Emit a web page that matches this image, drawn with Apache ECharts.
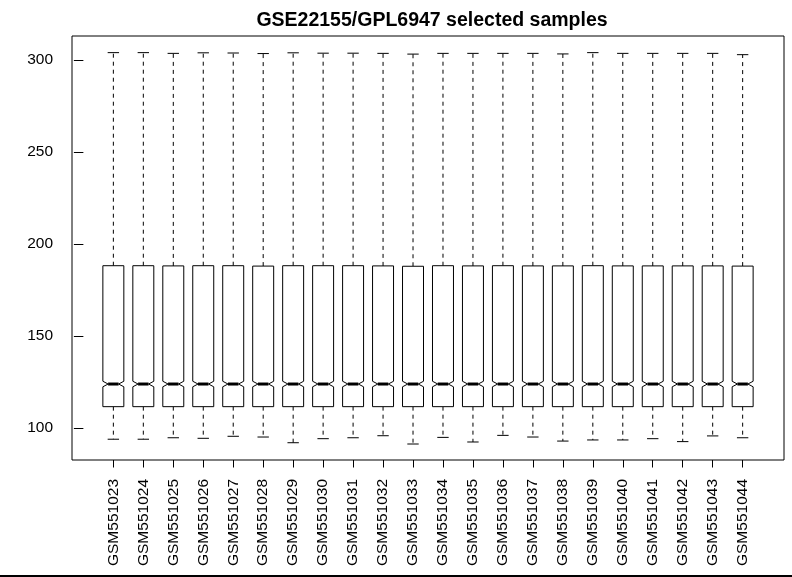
<!DOCTYPE html>
<html>
<head>
<meta charset="utf-8">
<script src="https://cdn.jsdelivr.net/npm/echarts@6/dist/echarts.min.js"></script>
<style>html,body{margin:0;padding:0;background:#fff;}#c{width:792px;height:577px;}</style>
</head>
<body>
<div id="c"></div>
<script>
var titleText = 'GSE22155/GPL6947 selected samples';
var samples = ['GSM551023','GSM551024','GSM551025','GSM551026','GSM551027','GSM551028','GSM551029','GSM551030','GSM551031','GSM551032','GSM551033','GSM551034','GSM551035','GSM551036','GSM551037','GSM551038','GSM551039','GSM551040','GSM551041','GSM551042','GSM551043','GSM551044'];
var whiskerLow = [93.9,93.9,94.7,94.4,95.5,95.1,92.0,94.2,94.7,95.8,91.3,94.9,92.4,96.0,95.1,92.9,93.5,93.5,94.2,92.6,95.7,94.7];
var q1 = [111.6,111.6,111.6,111.6,111.6,111.6,111.6,111.6,111.6,111.6,111.6,111.6,111.6,111.6,111.6,111.6,111.6,111.6,111.6,111.6,111.6,111.6];
var median = [123.9,123.9,123.9,123.9,123.9,123.9,123.9,123.9,123.9,123.9,123.9,123.9,123.9,123.9,123.9,123.9,123.9,123.9,123.9,123.9,123.9,123.9];
var q3 = [188.2,188.2,188.1,188.2,188.2,188.0,188.2,188.2,188.2,188.1,187.9,188.2,188.1,188.2,188.1,188.1,188.2,188.1,188.1,188.1,188.1,188.0];
var whiskerHigh = [304.0,304.0,303.6,303.9,303.8,303.5,303.9,303.7,303.7,303.6,303.2,303.6,303.6,303.6,303.6,303.3,304.0,303.6,303.6,303.6,303.6,302.9];
var notchHalf = [1.5,1.5,1.5,1.5,1.5,1.5,1.5,1.5,1.5,1.5,1.5,1.5,1.5,1.5,1.5,1.5,1.5,1.5,1.5,1.5,1.5,1.5];
var yTicks = [100,150,200,250,300];

var positions = samples.map(function(s,i){return i+1;});
var data = samples.map(function(s,i){
  return [i+1, whiskerLow[i], q1[i], median[i], q3[i], whiskerHigh[i], notchHalf[i]];
});

var FONT = '"Liberation Sans", Arial, Helvetica, sans-serif';
var BOX_HALF = 0.35, STAPLE_HALF = 0.19;

function renderItem(params, api){
  var x = api.value(0), lo = api.value(1), a = api.value(2), m = api.value(3), b = api.value(4), hi = api.value(5), nh = api.value(6);
  function P(dx, v){ return api.coord([x+dx, v]); }
  var w = BOX_HALF, nw = BOX_HALF/2;
  var pts = [P(-w,a),P(w,a),P(w,m-nh),P(nw,m),P(w,m+nh),P(w,b),P(-w,b),P(-w,m+nh),P(-nw,m),P(-w,m-nh)];
  var lineStyle = {stroke:'#000', lineWidth:1, fill:null};
  var dashStyle = {stroke:'#000', lineWidth:1, lineDash:[4,4]};
  return {type:'group', children:[
    {type:'line', shape:{x1:P(0,b)[0],y1:P(0,b)[1],x2:P(0,hi)[0],y2:P(0,hi)[1]}, style:dashStyle},
    {type:'line', shape:{x1:P(0,a)[0],y1:P(0,a)[1],x2:P(0,lo)[0],y2:P(0,lo)[1]}, style:dashStyle},
    {type:'line', shape:{x1:P(-STAPLE_HALF,hi)[0],y1:P(0,hi)[1],x2:P(STAPLE_HALF,hi)[0],y2:P(0,hi)[1]}, style:lineStyle},
    {type:'line', shape:{x1:P(-STAPLE_HALF,lo)[0],y1:P(0,lo)[1],x2:P(STAPLE_HALF,lo)[0],y2:P(0,lo)[1]}, style:lineStyle},
    {type:'polygon', shape:{points:pts}, style:{stroke:'#000', lineWidth:1, fill:'#fff'}},
    {type:'line', shape:{x1:P(-nw,m)[0],y1:P(0,m)[1],x2:P(nw,m)[0],y2:P(0,m)[1]}, style:{stroke:'#000', lineWidth:3}}
  ]};
}

var chart = echarts.init(document.getElementById('c'));
chart.setOption({
  backgroundColor:'#fff',
  animation:false,
  title:{text:titleText, left:427, top:6, textAlign:'center',
    textStyle:{fontFamily:FONT, fontWeight:'bold', fontSize:19.5, color:'#000'}},
  grid:{left:72, right:8, top:36, bottom:117, show:true, borderColor:'#000', borderWidth:1, backgroundColor:'transparent'},
  xAxis:{type:'value', min:-0.38, max:23.38,
    splitLine:{show:false}, axisLine:{show:false},
    axisTick:{show:true, customValues:positions, length:7.5, lineStyle:{color:'#000', width:1}},
    axisLabel:{show:true, customValues:positions, rotate:90, margin:19, color:'#000', fontFamily:FONT, fontSize:15.5,
      formatter:function(v){return samples[Math.round(v)-1] || '';}}
  },
  yAxis:{type:'value', min:82.61, max:313.04,
    splitLine:{show:false}, axisLine:{show:false},
    axisTick:{show:true, customValues:yTicks, length:9.5, lineStyle:{color:'#000', width:1}},
    axisLabel:{show:true, customValues:yTicks, margin:19, color:'#000', fontFamily:FONT, fontSize:15.5}
  },
  series:[{type:'custom', renderItem:renderItem, data:data, clip:false,
    encode:{x:0, y:[1,5]}}],
  graphic:[{type:'rect', shape:{x:0, y:575, width:792, height:2}, style:{fill:'#000'}}]
});
</script>
</body>
</html>
